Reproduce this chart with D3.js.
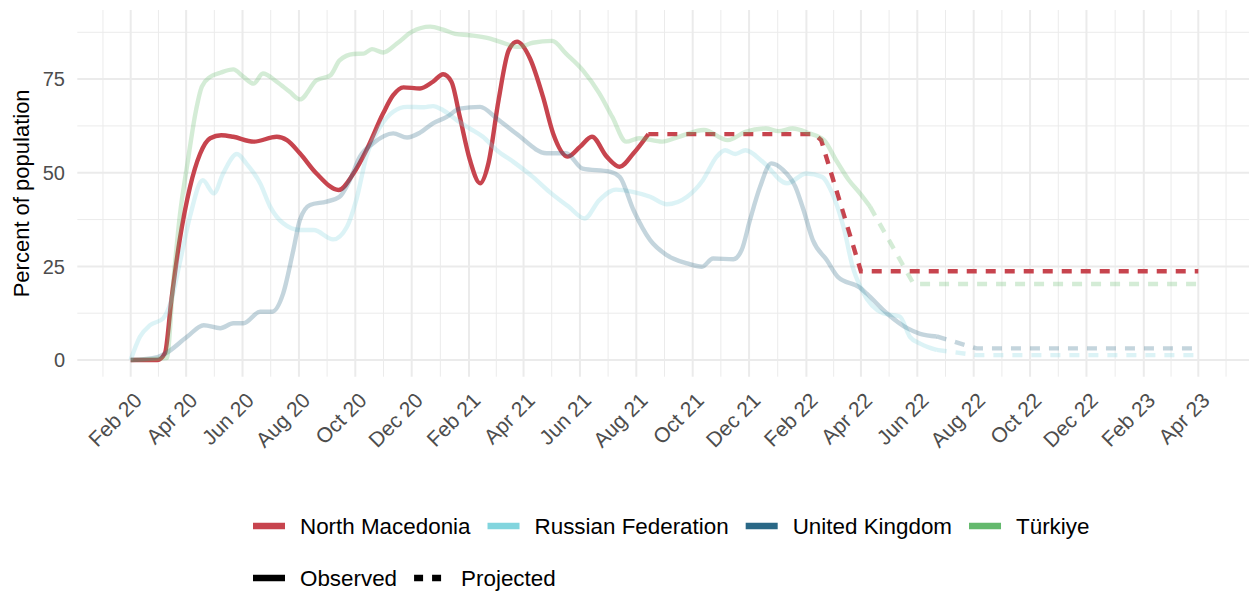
<!DOCTYPE html>
<html>
<head>
<meta charset="utf-8">
<script src="https://cdn.jsdelivr.net/npm/d3@7"></script>
<style>
  body { margin: 0; background: #fff; }
  svg { display: block; font-family: "Liberation Sans", Arial, sans-serif; }
</style>
</head>
<body>
<div id="chart"></div>
<script>
// ---- data ----
const countries = ['North Macedonia', 'Russian Federation', 'United Kingdom', 'Türkiye'];
const countryColors = ['#c7444e', '#82d5de', '#2a6886', '#64b96d'];
const countryAlpha = [1, 0.28, 0.28, 0.28];
const yTickValues = [0, 25, 50, 75];
const yMinorValues = [12.5, 37.5, 62.5, 87.5];
const linetypes = ['Observed', 'Projected'];

const northMacedoniaObserved = [
  ['2020-02-01', 0], ['2020-03-01', 0], ['2020-03-09', 1.8], ['2020-03-16', 16],
  ['2020-03-25', 32], ['2020-04-05', 46], ['2020-04-16', 55], ['2020-04-27', 59.2],
  ['2020-05-09', 60], ['2020-05-22', 59.6], ['2020-06-13', 58.3], ['2020-07-08', 59.6],
  ['2020-07-19', 58.7], ['2020-08-02', 55.2], ['2020-08-20', 49.8], ['2020-09-13', 45.4],
  ['2020-09-29', 49.8], ['2020-10-13', 56], ['2020-10-31', 65.8], ['2020-11-11', 70.7],
  ['2020-11-22', 72.8], ['2020-12-10', 72.5], ['2020-12-24', 74.3], ['2021-01-04', 76.3],
  ['2021-01-13', 74.3], ['2021-01-22', 65], ['2021-02-02', 53.4], ['2021-02-13', 47.2],
  ['2021-02-22', 52.5], ['2021-03-05', 69.4], ['2021-03-16', 82.7], ['2021-03-25', 85],
  ['2021-04-08', 80.5], ['2021-04-22', 70.3], ['2021-05-03', 60.5], ['2021-05-19', 54.3],
  ['2021-06-01', 56.9], ['2021-06-14', 59.6], ['2021-06-30', 54.3], ['2021-07-14', 51.6],
  ['2021-07-29', 55.2], ['2021-08-14', 60.3]
];
const northMacedoniaProjected = [
  ['2021-08-14', 60.3], ['2022-02-10', 60.3], ['2022-02-17', 58.7],
  ['2022-04-01', 23.7], ['2023-04-01', 23.7]
];

const russiaObserved = [
  ['2020-02-01', 0], ['2020-02-11', 6.2], ['2020-02-22', 9.3], ['2020-03-07', 11.1],
  ['2020-03-16', 16], ['2020-03-25', 25.8], ['2020-04-05', 38.2], ['2020-04-19', 48],
  ['2020-05-01', 44.5], ['2020-05-11', 49.8], ['2020-05-26', 55], ['2020-06-05', 52.5],
  ['2020-06-20', 47.2], ['2020-07-01', 40.9], ['2020-07-15', 36.5], ['2020-08-02', 34.7],
  ['2020-08-17', 34.7], ['2020-09-07', 32.2], ['2020-09-22', 35.6], ['2020-10-02', 42.7],
  ['2020-10-13', 54.3], ['2020-10-28', 62.3], ['2020-11-11', 66.3], ['2020-11-26', 67.6],
  ['2020-12-14', 67.5], ['2020-12-24', 67.8], ['2021-01-04', 66.7], ['2021-01-19', 64],
  ['2021-02-02', 61.8], ['2021-02-16', 59.6], ['2021-03-03', 56], ['2021-03-21', 52.9],
  ['2021-04-11', 48.9], ['2021-04-29', 44.9], ['2021-05-20', 40.9], ['2021-06-06', 37.8],
  ['2021-06-22', 42.7], ['2021-07-10', 45.5], ['2021-07-28', 44.9], ['2021-08-16', 43.6],
  ['2021-09-03', 41.6], ['2021-09-25', 43.6], ['2021-10-12', 48], ['2021-10-27', 54.3],
  ['2021-11-05', 56], ['2021-11-16', 55], ['2021-11-27', 56], ['2021-12-16', 52.9],
  ['2022-01-11', 47.2], ['2022-02-01', 49.8], ['2022-02-18', 48.9], ['2022-03-01', 44.5],
  ['2022-03-14', 34.7], ['2022-03-23', 24.9], ['2022-04-02', 18.7], ['2022-04-25', 12.5],
  ['2022-05-13', 11.6], ['2022-05-24', 6.2], ['2022-06-04', 4.4], ['2022-06-22', 2.7]
];
const russiaProjected = [
  ['2022-06-22', 2.7], ['2022-08-04', 1.3], ['2023-04-01', 1.3]
];

const ukObserved = [
  ['2020-02-01', 0], ['2020-03-01', 0.8], ['2020-03-10', 1.8], ['2020-04-02', 6.2],
  ['2020-04-20', 9.3], ['2020-05-08', 8.5], ['2020-05-22', 9.8], ['2020-06-02', 9.8],
  ['2020-06-20', 12.9], ['2020-07-03', 12.9], ['2020-07-15', 17.8], ['2020-07-26', 29.4],
  ['2020-08-02', 37.4], ['2020-08-13', 41.4], ['2020-08-31', 42.3], ['2020-09-14', 43.6],
  ['2020-09-25', 48], ['2020-10-06', 54.3], ['2020-10-20', 57.8], ['2020-11-11', 60.5],
  ['2020-11-26', 59.4], ['2020-12-10', 60.7], ['2020-12-24', 63.2], ['2021-01-08', 64.9],
  ['2021-01-22', 67.1], ['2021-02-13', 67.6], ['2021-03-03', 64.5], ['2021-03-24', 60.5],
  ['2021-04-26', 55.2], ['2021-05-17', 55.2], ['2021-06-04', 51.1], ['2021-07-03', 50.3],
  ['2021-07-14', 48.9], ['2021-07-29', 40], ['2021-08-16', 32], ['2021-09-03', 28],
  ['2021-09-25', 25.8], ['2021-10-11', 24.9], ['2021-10-23', 27.1], ['2021-11-14', 26.9],
  ['2021-11-23', 29.4], ['2021-12-02', 37.4], ['2021-12-13', 46.3], ['2021-12-25', 52.5],
  ['2022-01-07', 50.7], ['2022-01-20', 46.3], ['2022-01-29', 40], ['2022-02-08', 32],
  ['2022-02-23', 26.7], ['2022-03-07', 22.2], ['2022-03-31', 19.3], ['2022-04-07', 17.8],
  ['2022-04-29', 12.5], ['2022-05-21', 8.5], ['2022-06-04', 7.0], ['2022-06-22', 6.3]
];
const ukProjected = [
  ['2022-06-22', 6.3], ['2022-08-04', 3.1], ['2023-04-01', 3.1]
];

const turkiyeObserved = [
  ['2020-02-01', 0], ['2020-03-11', 0.5], ['2020-03-18', 20.5], ['2020-03-25', 38.2],
  ['2020-04-03', 53.4], ['2020-04-11', 65.8], ['2020-04-18', 73], ['2020-04-27', 75.6],
  ['2020-05-08', 76.7], ['2020-05-22', 77.6], ['2020-06-02', 75.6], ['2020-06-13', 73.8],
  ['2020-06-23', 76.5], ['2020-07-08', 74.3], ['2020-07-22', 71.6], ['2020-08-02', 69.6],
  ['2020-08-20', 74.7], ['2020-09-04', 76], ['2020-09-14', 80], ['2020-09-29', 81.7],
  ['2020-10-10', 81.8], ['2020-10-19', 83], ['2020-10-31', 82.1], ['2020-11-15', 84.5],
  ['2020-12-01', 87.6], ['2020-12-21', 89], ['2021-01-04', 88.2], ['2021-01-17', 87.1],
  ['2021-02-02', 86.7], ['2021-02-24', 85.8], ['2021-03-06', 85], ['2021-03-27', 83.6],
  ['2021-04-11', 84.7], ['2021-05-02', 85.2], ['2021-05-17', 81.8], ['2021-06-04', 77.4],
  ['2021-06-22', 71.2], ['2021-07-06', 64.9], ['2021-07-21', 58.3], ['2021-08-04', 59.2],
  ['2021-08-29', 58.3], ['2021-09-16', 59.6], ['2021-10-13', 61.4], ['2021-11-08', 58.7],
  ['2021-11-27', 60.9], ['2021-12-19', 61.8], ['2022-01-02', 61.1], ['2022-01-17', 61.8],
  ['2022-02-04', 60.5], ['2022-02-20', 58.7], ['2022-03-05', 53.4], ['2022-03-19', 48],
  ['2022-03-31', 44.5], ['2022-04-11', 40.9]
];
const turkiyeProjected = [
  ['2022-04-11', 40.9], ['2022-05-28', 20.3], ['2023-04-01', 20.3]
];

const observedSeries = [northMacedoniaObserved, russiaObserved, ukObserved, turkiyeObserved];
const projectedSeries = [northMacedoniaProjected, russiaProjected, ukProjected, turkiyeProjected];

// ---- chart ----
const width = 1249;
const height = 595;
const panel = { left: 77.3, top: 10, bottom: 376.7 };

const parse = d3.utcParse('%Y-%m-%d');
const toPoints = (arr) => arr.map(([d, v]) => ({ date: parse(d), value: v }));
const observed = observedSeries.map(toPoints);
const projected = projectedSeries.map(toPoints);
const allPoints = observed.concat(projected).flat();

// ggplot-like 5% expansion on both axes
const [dMin, dMax] = d3.extent(allPoints, (p) => p.date);
const dPad = (dMax - dMin) * 0.05;
const [vMin, vMax] = d3.extent(allPoints, (p) => p.value);
const vPad = (vMax - vMin) * 0.05;

const xScale = d3.scaleUtc()
  .domain([new Date(+dMin - dPad), new Date(+dMax + dPad)])
  .range([panel.left, 1251.7]);

const yScale = d3.scaleLinear()
  .domain([vMin - vPad, vMax + vPad])
  .range([panel.bottom, panel.top]);

const svg = d3.select('#chart')
  .append('svg')
  .attr('width', width)
  .attr('height', height);

svg.append('rect').attr('width', width).attr('height', height).attr('fill', '#fff');

// grid
const majorDates = d3.utcMonth.range(parse('2020-02-01'), new Date(+dMax + 1), 2);
const step = majorDates[1] - majorDates[0];
const minorDates = [new Date(+majorDates[0] - step / 2)];
majorDates.forEach((d, i) => {
  if (i > 0) minorDates.push(new Date((+majorDates[i - 1] + +d) / 2));
});
minorDates.push(new Date(+majorDates[majorDates.length - 1] + step / 2));

const grid = svg.append('g');
grid.selectAll('.ymin').data(yMinorValues).enter().append('line')
  .attr('x1', panel.left).attr('x2', width)
  .attr('y1', (d) => yScale(d)).attr('y2', (d) => yScale(d))
  .attr('stroke', '#ebebeb').attr('stroke-width', 1);
grid.selectAll('.xmin').data(minorDates).enter().append('line')
  .attr('x1', (d) => xScale(d)).attr('x2', (d) => xScale(d))
  .attr('y1', panel.top).attr('y2', panel.bottom)
  .attr('stroke', '#ebebeb').attr('stroke-width', 1);
grid.selectAll('.ymaj').data(yTickValues).enter().append('line')
  .attr('x1', panel.left).attr('x2', width)
  .attr('y1', (d) => yScale(d)).attr('y2', (d) => yScale(d))
  .attr('stroke', '#ebebeb').attr('stroke-width', 2);
grid.selectAll('.xmaj').data(majorDates).enter().append('line')
  .attr('x1', (d) => xScale(d)).attr('x2', (d) => xScale(d))
  .attr('y1', panel.top).attr('y2', panel.bottom)
  .attr('stroke', '#ebebeb').attr('stroke-width', 2);

// axis labels
svg.append('g').selectAll('text').data(yTickValues).enter().append('text')
  .attr('x', 65).attr('y', (d) => yScale(d)).attr('dy', '0.36em')
  .attr('text-anchor', 'end').attr('font-size', 20).attr('fill', '#4d4d4d')
  .text((d) => d);

const fmt = d3.utcFormat('%b %y');
svg.append('g').selectAll('text').data(majorDates).enter().append('text')
  .attr('transform', (d) => 'translate(' + (xScale(d) + 2) + ',391) rotate(-45)')
  .attr('dy', '0.72em')
  .attr('text-anchor', 'end').attr('font-size', 21).attr('fill', '#4d4d4d')
  .text((d) => fmt(d));

svg.append('text')
  .attr('transform', 'translate(28.5,' + (panel.top + panel.bottom) / 2 + ') rotate(-90)')
  .attr('text-anchor', 'middle').attr('font-size', 22).attr('fill', '#000')
  .text('Percent of population');

// lines
const line = d3.line()
  .x((p) => xScale(p.date))
  .y((p) => yScale(p.value));

const lines = svg.append('g');
countries.forEach((c, i) => {
  lines.append('path')
    .datum(observed[i])
    .attr('d', line.curve(d3.curveMonotoneX))
    .attr('fill', 'none')
    .attr('stroke', countryColors[i])
    .attr('stroke-opacity', countryAlpha[i])
    .attr('stroke-width', 4.4)
    .attr('stroke-linejoin', 'round');
  lines.append('path')
    .datum(projected[i])
    .attr('d', line.curve(d3.curveLinear))
    .attr('fill', 'none')
    .attr('stroke', countryColors[i])
    .attr('stroke-opacity', countryAlpha[i])
    .attr('stroke-width', 4.4)
    .attr('stroke-dasharray', '10,9');
});

// legend
const legend = svg.append('g').attr('font-size', 22.4).attr('fill', '#000');
const keyW = 32;
let lx = 253;
countries.forEach((c, i) => {
  legend.append('line')
    .attr('x1', lx).attr('x2', lx + keyW).attr('y1', 526).attr('y2', 526)
    .attr('stroke', countryColors[i]).attr('stroke-width', 6.5);
  const t = legend.append('text').attr('x', lx + 47).attr('y', 526).attr('dy', '0.36em').text(c);
  lx += 47 + t.node().getComputedTextLength() + 17;
});
lx = 253;
linetypes.forEach((lt, i) => {
  legend.append('line')
    .attr('x1', lx).attr('x2', lx + keyW).attr('y1', 578).attr('y2', 578)
    .attr('stroke', '#000').attr('stroke-width', 6.5)
    .attr('stroke-dasharray', i === 1 ? '9,9' : null);
  const t = legend.append('text').attr('x', lx + 47).attr('y', 578).attr('dy', '0.36em').text(lt);
  lx += 47 + t.node().getComputedTextLength() + 17;
});
</script>
</body>
</html>
